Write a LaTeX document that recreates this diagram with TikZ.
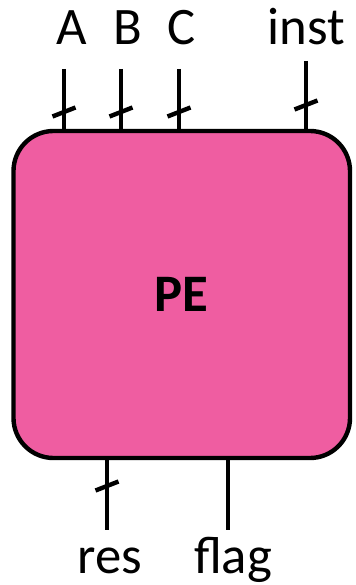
\documentclass[tikz,border=0pt]{standalone}
\usepackage{fontspec}
\setmainfont{Carlito}
\usepackage{tikz}
\usetikzlibrary{positioning,calc}
\definecolor{pepink}{RGB}{239,93,161}
\tikzset{
  wire/.style={line width=2.5pt},
  pebox/.style={draw, line width=2.5pt, fill=pepink, rounded corners=0.8cm,
    minimum width=6.73cm, minimum height=6.54cm, inner sep=0pt,
    font=\fontsize{30}{36}\selectfont\bfseries},
  pinlabel/.style={anchor=base, inner sep=0pt, font=\fontsize{30}{36}\selectfont},
}
% kreska szyny (bus) na przewodzie
\newcommand{\busmark}[1]{\draw[wire] (#1) ++(-0.23,-0.09) -- ++(0.46,0.18);}

\begin{document}
\begin{tikzpicture}
    \useasboundingbox (0,0) rectangle (7.1,-11.7);
    % blok PE
    \node[pebox] (pe) at (3.635,-5.89) {PE};
    % wejscia: nazwa / x przewodu / gora przewodu / x etykiety / y kreski
    \foreach \name/\x/\top/\lx/\my in {A/1.28/-1.38/1.44/-2.24, B/2.42/-1.38/2.56/-2.24, C/3.58/-1.38/3.64/-2.24, inst/6.12/-1.22/6.12/-2.1} {
        \coordinate (in\name) at (\x,\top);
        \coordinate (mk\name) at (\x,\my);
        \node[pinlabel] (lab\name) at (\lx,-0.89) {\name};
        \draw[wire] (in\name) -- (in\name |- pe.north);
        \busmark{mk\name}
    }
    % wyjscia
    \foreach \name/\x/\lx in {res/2.14/2.2, flag/4.56/4.66} {
        \coordinate (out\name) at (\x,-10.6);
        \node[pinlabel] (lab\name) at (\lx,-11.46) {\name};
        \draw[wire] (out\name |- pe.south) -- (out\name);
    }
    \coordinate (mkres) at (2.14,-9.72);
    \busmark{mkres}
\end{tikzpicture}
\end{document}
